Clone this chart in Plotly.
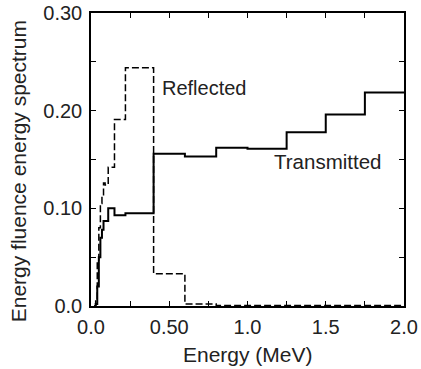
import plotly.graph_objects as go

# Bin edges (MeV) and energy fluence spectra
edges = [0.02, 0.03, 0.04, 0.05, 0.06, 0.07, 0.08, 0.09, 0.11, 0.15, 0.22,
         0.40, 0.60, 0.80, 1.00, 1.25, 1.50, 1.75, 2.00]
transmitted = [0.0, 0.002, 0.020, 0.050, 0.070, 0.078, 0.087, 0.087, 0.100,
               0.093, 0.095, 0.156, 0.153, 0.162, 0.161, 0.178, 0.196, 0.2185]
reflected = [0.0, 0.005, 0.045, 0.080, 0.105, 0.114, 0.126, 0.124, 0.142,
             0.191, 0.244, 0.033, 0.002, 0.0005, 0.0005, 0.0005, 0.0005, 0.0005]

x_tickvals = [0, 0.25, 0.5, 0.75, 1.0, 1.25, 1.5, 1.75, 2.0]
x_ticktext = ["0.0", "", "0.50", "", "1.0", "", "1.5", "", "2.0"]
y_tickvals = [0, 0.05, 0.10, 0.15, 0.20, 0.25, 0.30]
y_ticktext = ["0.0", "", "0.10", "", "0.20", "", "0.30"]

FONT = "Liberation Sans, Arial, Helvetica, sans-serif"
FS = 20

fig = go.Figure()
fig.add_trace(go.Scatter(
    x=edges, y=reflected + [reflected[-1]], mode="lines", line_shape="hv",
    line=dict(color="black", width=1.5, dash="7px,3px"), name="Reflected"))
fig.add_trace(go.Scatter(
    x=edges, y=transmitted + [transmitted[-1]], mode="lines", line_shape="hv",
    line=dict(color="black", width=2), name="Transmitted"))

axis_common = dict(
    showgrid=False, zeroline=False, showline=True, linecolor="black",
    linewidth=1.5, mirror="ticks", ticks="inside", ticklen=5, tickwidth=1,
    tickcolor="black", tickfont=dict(family=FONT, size=FS, color="#222"),
    automargin=False,
)
fig.update_xaxes(range=[0, 2.0], tickvals=x_tickvals, ticktext=x_ticktext,
                 ticklabelstandoff=2, **axis_common)
fig.update_yaxes(range=[0, 0.30], tickvals=y_tickvals, ticktext=y_ticktext,
                 ticklabelstandoff=3, **axis_common)

fig.add_annotation(x=0.44, y=0.223, text="Reflected", showarrow=False,
                   xanchor="left", yanchor="middle",
                   font=dict(family=FONT, size=FS, color="#222"))
fig.add_annotation(x=1.155, y=0.148, text="Transmitted", showarrow=False,
                   xanchor="left", yanchor="middle",
                   font=dict(family=FONT, size=20.5, color="#222"))
fig.add_annotation(xref="paper", yref="paper", x=0.5, y=-0.165,
                   text="Energy (MeV)", showarrow=False, yanchor="middle",
                   font=dict(family=FONT, size=21, color="#222"))
fig.add_annotation(xref="paper", yref="paper", x=-0.233, y=0.46,
                   text="Energy fluence energy spectrum", showarrow=False,
                   textangle=-90, xanchor="center", yanchor="middle",
                   font=dict(family=FONT, size=21, color="#222"))

fig.update_layout(
    width=421, height=369, showlegend=False, template="none",
    margin=dict(l=91, r=17, t=13, b=63, pad=0),
    plot_bgcolor="white", paper_bgcolor="white",
)
fig.write_html("out.html", config={"displayModeBar": False},
               post_script="document.body.style.margin='0';"
                           "document.body.style.overflow='hidden';")
